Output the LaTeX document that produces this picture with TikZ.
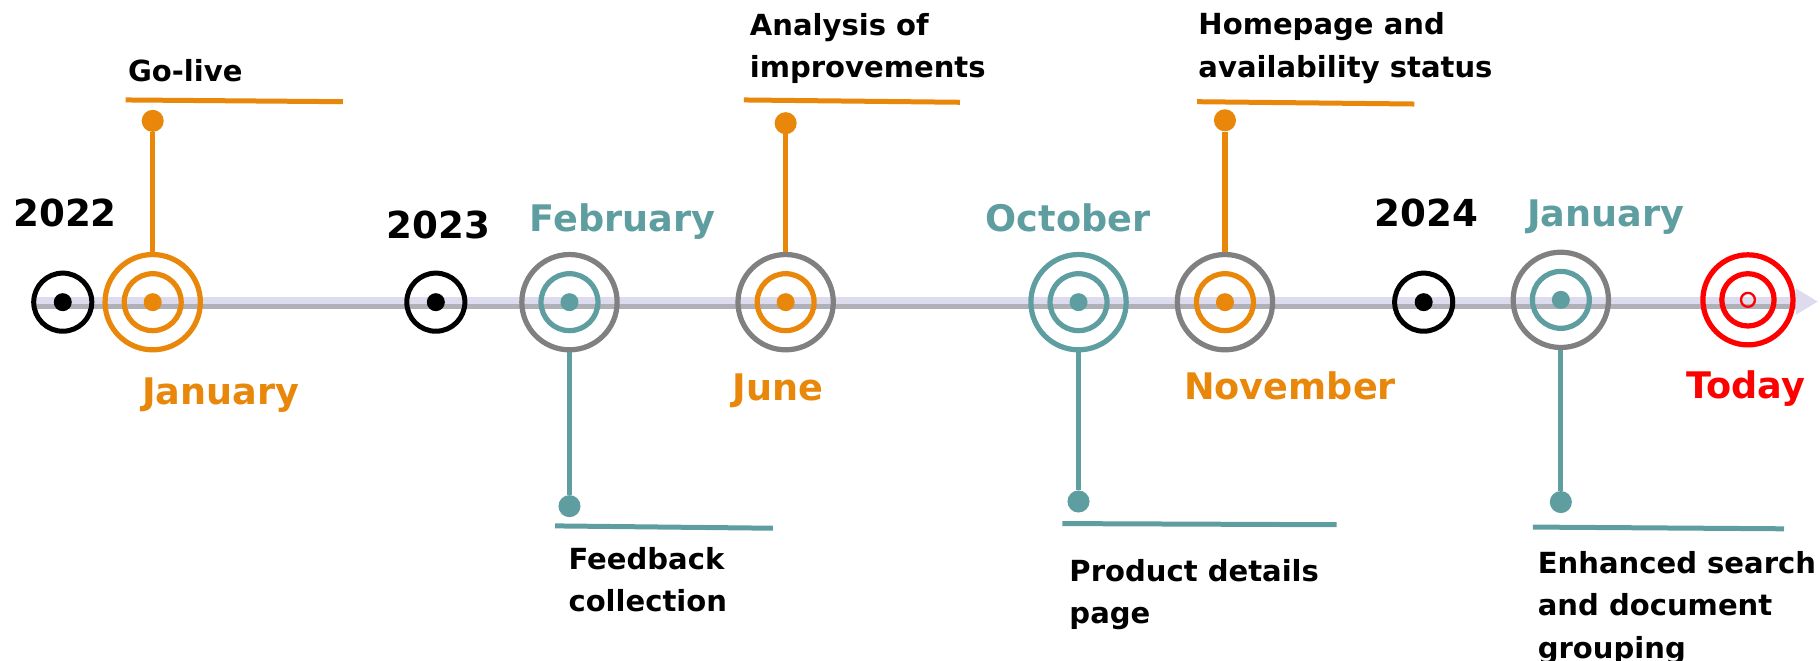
\documentclass[tikz,border=0pt]{standalone}
\usepackage{fontspec}
\setmainfont{DejaVu Sans}
\definecolor{evorange}{HTML}{E8870A}
\definecolor{evteal}{HTML}{5F9EA0}
\definecolor{evgray}{HTML}{808080}
\definecolor{evred}{HTML}{FF0000}
\definecolor{axislav}{HTML}{DCDCEE}
\definecolor{axisshadow}{HTML}{B0B0B8}
\begin{document}
\begin{tikzpicture}[x=1pt,y=-1pt,
  yearring/.style={circle,draw=black,line width=4.3pt,minimum size=50pt,inner sep=0pt},
  outerring/.style={circle,draw=#1,line width=4.5pt,minimum size=82pt,inner sep=0pt},
  innerring/.style={circle,draw=#1,line width=4.5pt,minimum size=49pt,inner sep=0pt},
  dot/.style={circle,fill=#1,minimum size=15.5pt,inner sep=0pt},
  enddot/.style={circle,fill=#1,minimum size=19pt,inner sep=0pt},
  stem/.style={draw=#1,line width=4.5pt},
  bar/.style={draw=#1,line width=4.3pt},
  yearlbl/.style={font=\fontsize{32}{38}\selectfont\bfseries,anchor=base,inner sep=0pt},
  monthlbl/.style={font=\fontsize{31.5}{38}\selectfont\bfseries,text=#1,anchor=base,inner sep=0pt},
  desc/.style={font=\fontsize{25}{36.5}\selectfont\bfseries,align=left,anchor=base west,inner sep=0pt}]
\useasboundingbox (0,0) rectangle (1566,568);

% axis
\coordinate (axS) at (30,261);
\coordinate (axE) at (1549,261);
\coordinate (axT) at (1564,259.5);
\draw[axisshadow,line width=4.5pt] ([yshift=-2.5pt]axS) -- ([yshift=-2.5pt]axE);
\draw[axislav,line width=5.5pt] ([yshift=2.5pt]axS) -- ([yshift=2.5pt]axE);
\fill[axislav] (1545,248) -- (axT) -- (1545,271) -- cycle;

% year markers
\node[yearring] (y22) at (54,260) {};
\node[dot=black] (y22d) at (y22) {};
\node[yearlbl] (y22l) at (56,194.5) {2022};
\node[yearring] (y23) at (375,260) {};
\node[dot=black] (y23d) at (y23) {};
\node[yearlbl] (y23l) at (377.5,205.5) {2023};
\node[yearring] (y24) at (1225,260) {};
\node[dot=black] (y24d) at (y24) {};
\node[yearlbl] (y24l) at (1227.5,195) {2024};

% January 2022
\node[outerring=evorange] (e1) at (131.4,260) {};
\node[innerring=evorange] (e1i) at (e1) {};
\node[dot=evorange] (e1d) at (e1) {};
\node[enddot=evorange] (e1e) at (131.4,104) {};
\draw[stem=evorange] (e1.north) -- (e1e);
\coordinate (e1a) at (108,86);
\coordinate (e1b) at (295,87.5);
\draw[bar=evorange] (e1a) -- (e1b);
\node[desc] (e1t) at (110,70.5) {Go-live};
\node[monthlbl=evorange] (e1m) at (190,348) {January};

% February 2023
\node[outerring=evgray] (e2) at (490,260) {};
\node[innerring=evteal] (e2i) at (e2) {};
\node[dot=evteal] (e2d) at (e2) {};
\node[enddot=evteal] (e2e) at (490,435.5) {};
\draw[stem=evteal] (e2.south) -- (e2e);
\coordinate (e2a) at (477.6,452.5);
\coordinate (e2b) at (665,454.5);
\draw[bar=evteal] (e2a) -- (e2b);
\node[desc] (e2t) at (489,526.5) {Feedback\\collection};
\node[monthlbl=evteal] (e2m) at (535.5,199.4) {February};

% June 2023
\node[outerring=evgray] (e3) at (676,260) {};
\node[innerring=evorange] (e3i) at (e3) {};
\node[dot=evorange] (e3d) at (e3) {};
\node[enddot=evorange] (e3e) at (676,106) {};
\draw[stem=evorange] (e3.north) -- (e3e);
\coordinate (e3a) at (640,86);
\coordinate (e3b) at (826,88);
\draw[bar=evorange] (e3a) -- (e3b);
\node[desc] (e3t) at (645,67) {Analysis of\\improvements};
\node[monthlbl=evorange] (e3m) at (669.5,345) {June};

% October 2023
\node[outerring=evteal] (e4) at (928,260) {};
\node[innerring=evteal] (e4i) at (e4) {};
\node[dot=evteal] (e4d) at (e4) {};
\node[enddot=evteal] (e4e) at (928,431.5) {};
\draw[stem=evteal] (e4.south) -- (e4e);
\coordinate (e4a) at (914,450.5);
\coordinate (e4b) at (1150,451.5);
\draw[bar=evteal] (e4a) -- (e4b);
\node[desc] (e4t) at (920,536.5) {Product details\\page};
\node[monthlbl=evteal] (e4m) at (919,199) {October};

% November 2023
\node[outerring=evgray] (e5) at (1054,260) {};
\node[innerring=evorange] (e5i) at (e5) {};
\node[dot=evorange] (e5d) at (e5) {};
\node[enddot=evorange] (e5e) at (1054,103.5) {};
\draw[stem=evorange] (e5.north) -- (e5e);
\coordinate (e5a) at (1030,87.5);
\coordinate (e5b) at (1217,89.5);
\draw[bar=evorange] (e5a) -- (e5b);
\node[desc] (e5t) at (1031,66.5) {Homepage and\\availability status};
\node[monthlbl=evorange] (e5m) at (1110,344) {November};

% January 2024
\node[outerring=evgray] (e6) at (1343,258) {};
\node[innerring=evteal] (e6i) at (e6) {};
\node[dot=evteal] (e6d) at (e6) {};
\node[enddot=evteal] (e6e) at (1343,432) {};
\draw[stem=evteal] (e6.south) -- (e6e);
\coordinate (e6a) at (1319,453.5);
\coordinate (e6b) at (1535,455);
\draw[bar=evteal] (e6a) -- (e6b);
\node[desc] (e6t) at (1323,566.5) {Enhanced search\\and document\\grouping};
\node[monthlbl=evteal] (e6m) at (1381.5,195) {January};

% Today
\node[circle,draw=evred,line width=4.5pt,minimum size=77.5pt,inner sep=0pt] (e7) at (1504,258) {};
\node[circle,draw=evred,line width=4.5pt,minimum size=45pt,inner sep=0pt] (e7i) at (e7) {};
\node[circle,draw=evred,line width=2pt,minimum size=12pt,inner sep=0pt] (e7d) at (e7) {};
\node[monthlbl=evred] (e7m) at (1502,343) {Today};
\end{tikzpicture}
\end{document}
